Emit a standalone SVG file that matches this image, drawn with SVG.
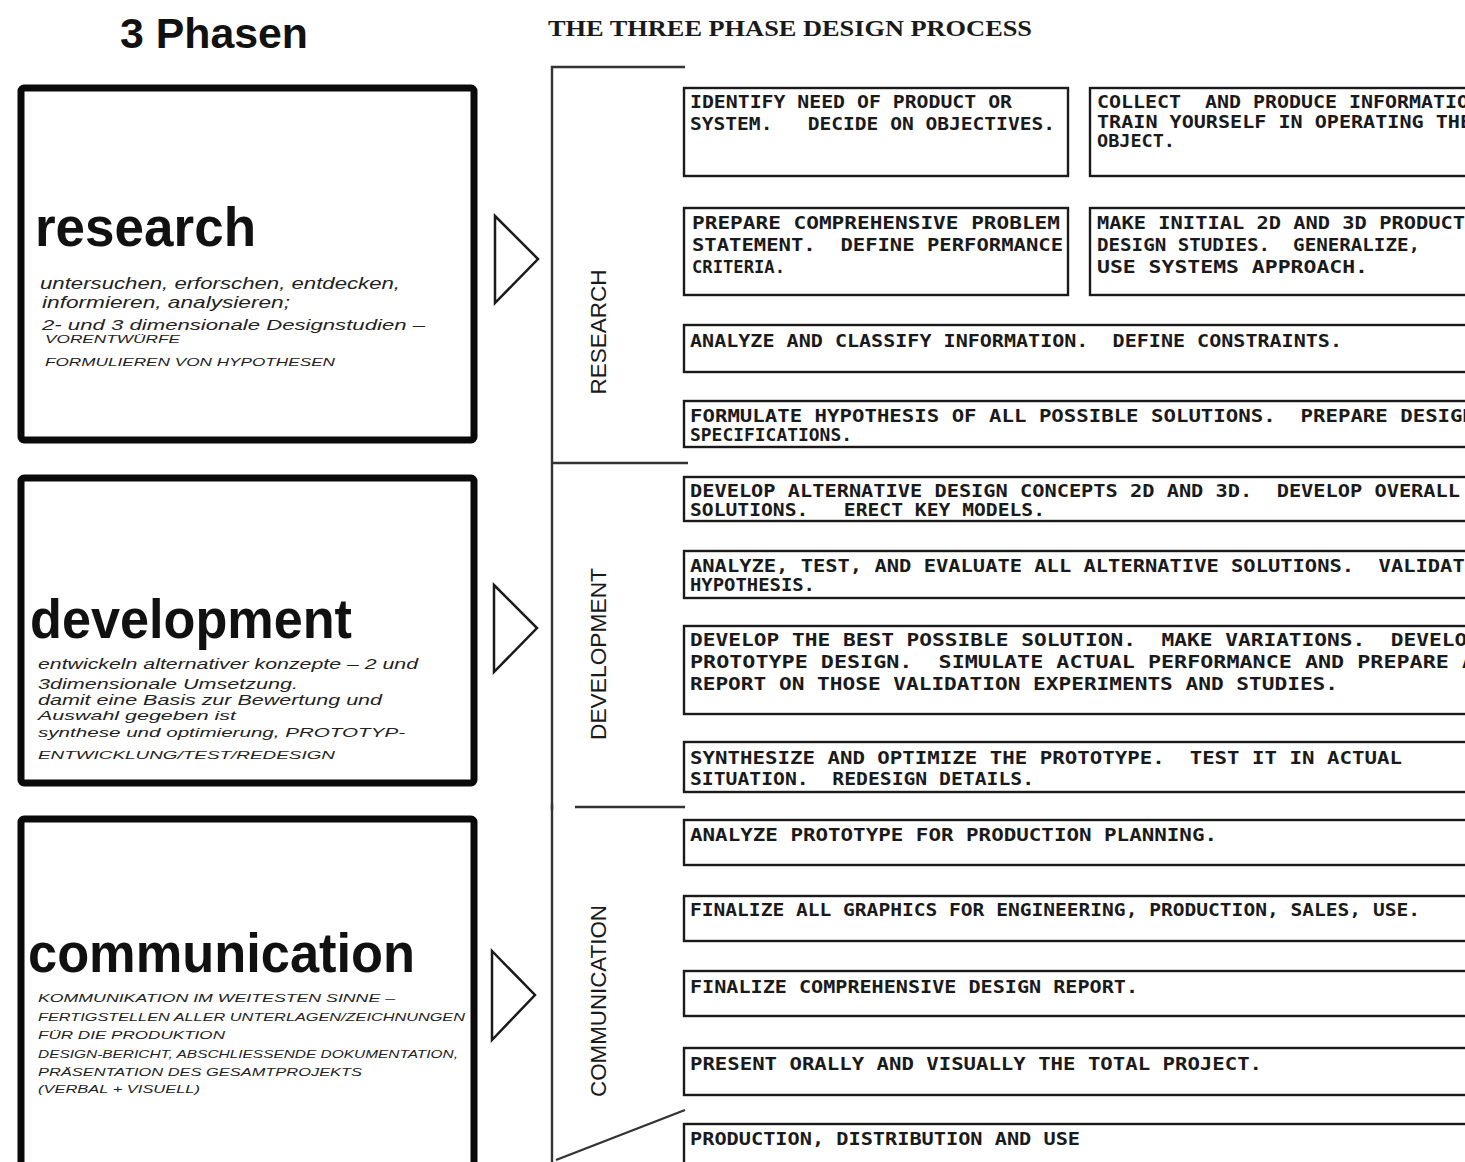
<svg xmlns="http://www.w3.org/2000/svg" width="1465" height="1162" viewBox="0 0 1465 1162">
  <style>
    .phase-box { fill: #fff; stroke: #0a0a0a; stroke-width: 7; stroke-linejoin: round; }
    .head { font-family: "Liberation Sans", Arial, sans-serif; font-weight: bold; fill: #111; }
    .hand { font-family: "Liberation Sans", Arial, sans-serif; font-style: italic; fill: #222; }
    .handcaps { font-family: "Liberation Sans", Arial, sans-serif; font-style: italic; font-size: 11px; fill: #222; }
    .arrow { fill: #fff; stroke: #1a1a1a; stroke-width: 2.5; stroke-linejoin: miter; }
    .step { fill: #fff; stroke: #1a1a1a; stroke-width: 2.4; }
    .step-text { font-family: "DejaVu Sans Mono", "Liberation Mono", monospace; font-weight: bold; font-size: 18px; fill: #1a1a1a; white-space: pre; }
    .rule { stroke: #333; stroke-width: 2.4; fill: none; }
    .vlabel { font-family: "Liberation Sans", Arial, sans-serif; font-size: 22px; fill: #1a1a1a; }
    .title { font-family: "Liberation Serif", "Times New Roman", serif; font-weight: bold; font-size: 23px; fill: #1a1a1a; }
  </style>
  <rect width="1465" height="1162" fill="#fff"/>

  <!-- left column heading -->
  <text class="head" x="120" y="48" font-size="42" textLength="188" lengthAdjust="spacingAndGlyphs">3 Phasen</text>

  <!-- left column: the three phases -->
  <g id="phase-research">
    <rect class="phase-box" x="21" y="88" width="453" height="352" rx="3"/>
    <text class="head" x="35" y="246" font-size="56" textLength="221" lengthAdjust="spacingAndGlyphs">research</text>
    <text class="hand" x="40" y="289" font-size="17" textLength="360" lengthAdjust="spacingAndGlyphs">untersuchen, erforschen, entdecken,</text>
    <text class="hand" x="42" y="308" font-size="17" textLength="248" lengthAdjust="spacingAndGlyphs">informieren, analysieren;</text>
    <text class="hand" x="42" y="330" font-size="14" textLength="383" lengthAdjust="spacingAndGlyphs">2- und 3 dimensionale Designstudien –</text>
    <text class="handcaps" x="45" y="343" font-size="10" textLength="135" lengthAdjust="spacingAndGlyphs">VORENTWÜRFE</text>
    <text class="handcaps" x="45" y="366" textLength="290" lengthAdjust="spacingAndGlyphs">FORMULIEREN VON HYPOTHESEN</text>
  </g>

  <g id="phase-development">
    <rect class="phase-box" x="21" y="478" width="453" height="305" rx="3"/>
    <text class="head" x="30" y="638" font-size="56" textLength="322" lengthAdjust="spacingAndGlyphs">development</text>
    <text class="hand" x="38" y="669" font-size="15" textLength="380" lengthAdjust="spacingAndGlyphs">entwickeln alternativer konzepte – 2 und</text>
    <text class="hand" x="38" y="689" font-size="14" textLength="260" lengthAdjust="spacingAndGlyphs">3dimensionale Umsetzung.</text>
    <text class="hand" x="38" y="705" font-size="14" textLength="344" lengthAdjust="spacingAndGlyphs">damit eine Basis zur Bewertung und</text>
    <text class="hand" x="38" y="720" font-size="13" textLength="198" lengthAdjust="spacingAndGlyphs">Auswahl gegeben ist</text>
    <text class="hand" x="38" y="737" font-size="13" textLength="367" lengthAdjust="spacingAndGlyphs">synthese und optimierung, PROTOTYP-</text>
    <text class="handcaps" x="38" y="759" font-size="13" textLength="297" lengthAdjust="spacingAndGlyphs">ENTWICKLUNG/TEST/REDESIGN</text>
  </g>

  <g id="phase-communication">
    <rect class="phase-box" x="21" y="819" width="453" height="360" rx="3"/>
    <text class="head" x="28" y="972" font-size="56" textLength="387" lengthAdjust="spacingAndGlyphs">communication</text>
    <text class="handcaps" x="38" y="1002" font-size="12" textLength="357" lengthAdjust="spacingAndGlyphs">KOMMUNIKATION IM WEITESTEN SINNE –</text>
    <text class="handcaps" x="38" y="1021" font-size="12" textLength="427" lengthAdjust="spacingAndGlyphs">FERTIGSTELLEN ALLER UNTERLAGEN/ZEICHNUNGEN</text>
    <text class="handcaps" x="38" y="1039" font-size="12" textLength="187" lengthAdjust="spacingAndGlyphs">FÜR DIE PRODUKTION</text>
    <text class="handcaps" x="38" y="1058" font-size="12" textLength="420" lengthAdjust="spacingAndGlyphs">DESIGN-BERICHT, ABSCHLIESSENDE DOKUMENTATION,</text>
    <text class="handcaps" x="38" y="1076" font-size="12" textLength="324" lengthAdjust="spacingAndGlyphs">PRÄSENTATION DES GESAMTPROJEKTS</text>
    <text class="handcaps" x="38" y="1093" font-size="12" textLength="162" lengthAdjust="spacingAndGlyphs">(VERBAL + VISUELL)</text>
  </g>

  <!-- open arrowheads pointing into the process chart -->
  <g id="connectors">
    <polygon class="arrow" points="495,216 538,259 495,303"/>
    <polygon class="arrow" points="494,585 537,628 494,672"/>
    <polygon class="arrow" points="492,951 535,995 492,1040"/>
  </g>

  <!-- right column: process chart -->
  <text class="title" x="548" y="36" textLength="484" lengthAdjust="spacingAndGlyphs">THE THREE PHASE DESIGN PROCESS</text>

  <g id="phase-brackets">
    <path class="rule" d="M685,67 H552 V1162"/>
    <path class="rule" d="M552,463 H688"/>
    <path class="rule" d="M575,807 H685"/>
    <path class="rule" d="M552,804 V810"/>
    <path class="rule" d="M556,1160 L685,1110"/>
    <text class="vlabel" transform="translate(606,332) rotate(-90)" text-anchor="middle" textLength="125" lengthAdjust="spacingAndGlyphs">RESEARCH</text>
    <text class="vlabel" transform="translate(606,654) rotate(-90)" text-anchor="middle" textLength="172" lengthAdjust="spacingAndGlyphs">DEVELOPMENT</text>
    <text class="vlabel" transform="translate(606,1001) rotate(-90)" text-anchor="middle" textLength="192" lengthAdjust="spacingAndGlyphs">COMMUNICATION</text>
  </g>

  <g id="step-identify-need">
    <rect class="step" x="684" y="88" width="384" height="88"/>
    <text class="step-text" x="690" y="108" textLength="322" lengthAdjust="spacingAndGlyphs">IDENTIFY NEED OF PRODUCT OR</text>
    <text class="step-text" x="690" y="130" textLength="365" lengthAdjust="spacingAndGlyphs">SYSTEM.   DECIDE ON OBJECTIVES.</text>
  </g>
  <g id="step-collect-information">
    <rect class="step" x="1090" y="88" width="400" height="88"/>
    <text class="step-text" x="1097" y="108" textLength="372" lengthAdjust="spacingAndGlyphs">COLLECT  AND PRODUCE INFORMATIO</text>
    <text class="step-text" x="1097" y="128" textLength="375" lengthAdjust="spacingAndGlyphs">TRAIN YOURSELF IN OPERATING THE</text>
    <text class="step-text" x="1097" y="147" textLength="78" lengthAdjust="spacingAndGlyphs">OBJECT.</text>
  </g>
  <g id="step-problem-statement">
    <rect class="step" x="684" y="208" width="384" height="87"/>
    <text class="step-text" x="692" y="229" textLength="368" lengthAdjust="spacingAndGlyphs">PREPARE COMPREHENSIVE PROBLEM</text>
    <text class="step-text" x="692" y="251" textLength="371" lengthAdjust="spacingAndGlyphs">STATEMENT.  DEFINE PERFORMANCE</text>
    <text class="step-text" x="692" y="273" textLength="93" lengthAdjust="spacingAndGlyphs">CRITERIA.</text>
  </g>
  <g id="step-design-studies">
    <rect class="step" x="1090" y="208" width="400" height="87"/>
    <text class="step-text" x="1097" y="229" textLength="368" lengthAdjust="spacingAndGlyphs">MAKE INITIAL 2D AND 3D PRODUCT</text>
    <text class="step-text" x="1097" y="251" textLength="323" lengthAdjust="spacingAndGlyphs">DESIGN STUDIES.  GENERALIZE,</text>
    <text class="step-text" x="1097" y="273" textLength="271" lengthAdjust="spacingAndGlyphs">USE SYSTEMS APPROACH.</text>
  </g>
  <g id="step-classify">
    <rect class="step" x="684" y="325" width="820" height="47"/>
    <text class="step-text" x="690" y="347" textLength="652" lengthAdjust="spacingAndGlyphs">ANALYZE AND CLASSIFY INFORMATION.  DEFINE CONSTRAINTS.</text>
  </g>
  <g id="step-hypothesis">
    <rect class="step" x="684" y="401" width="820" height="46"/>
    <text class="step-text" x="690" y="422" textLength="785" lengthAdjust="spacingAndGlyphs">FORMULATE HYPOTHESIS OF ALL POSSIBLE SOLUTIONS.  PREPARE DESIGN</text>
    <text class="step-text" x="690" y="441" textLength="162" lengthAdjust="spacingAndGlyphs">SPECIFICATIONS.</text>
  </g>
  <g id="step-concepts">
    <rect class="step" x="684" y="477" width="820" height="44"/>
    <text class="step-text" x="690" y="497" textLength="770" lengthAdjust="spacingAndGlyphs">DEVELOP ALTERNATIVE DESIGN CONCEPTS 2D AND 3D.  DEVELOP OVERALL</text>
    <text class="step-text" x="690" y="516" textLength="355" lengthAdjust="spacingAndGlyphs">SOLUTIONS.   ERECT KEY MODELS.</text>
  </g>
  <g id="step-evaluate">
    <rect class="step" x="684" y="551" width="820" height="47"/>
    <text class="step-text" x="690" y="572" textLength="787" lengthAdjust="spacingAndGlyphs">ANALYZE, TEST, AND EVALUATE ALL ALTERNATIVE SOLUTIONS.  VALIDATE</text>
    <text class="step-text" x="690" y="591" textLength="125" lengthAdjust="spacingAndGlyphs">HYPOTHESIS.</text>
  </g>
  <g id="step-best-solution">
    <rect class="step" x="684" y="626" width="820" height="88"/>
    <text class="step-text" x="690" y="646" textLength="790" lengthAdjust="spacingAndGlyphs">DEVELOP THE BEST POSSIBLE SOLUTION.  MAKE VARIATIONS.  DEVELOP</text>
    <text class="step-text" x="690" y="668" textLength="785" lengthAdjust="spacingAndGlyphs">PROTOTYPE DESIGN.  SIMULATE ACTUAL PERFORMANCE AND PREPARE A</text>
    <text class="step-text" x="690" y="690" textLength="648" lengthAdjust="spacingAndGlyphs">REPORT ON THOSE VALIDATION EXPERIMENTS AND STUDIES.</text>
  </g>
  <g id="step-synthesize">
    <rect class="step" x="684" y="742" width="820" height="50"/>
    <text class="step-text" x="690" y="764" textLength="712" lengthAdjust="spacingAndGlyphs">SYNTHESIZE AND OPTIMIZE THE PROTOTYPE.  TEST IT IN ACTUAL</text>
    <text class="step-text" x="690" y="785" textLength="344" lengthAdjust="spacingAndGlyphs">SITUATION.  REDESIGN DETAILS.</text>
  </g>
  <g id="step-production-planning">
    <rect class="step" x="684" y="820" width="820" height="45"/>
    <text class="step-text" x="690" y="841" textLength="527" lengthAdjust="spacingAndGlyphs">ANALYZE PROTOTYPE FOR PRODUCTION PLANNING.</text>
  </g>
  <g id="step-graphics">
    <rect class="step" x="684" y="896" width="820" height="45"/>
    <text class="step-text" x="690" y="916" textLength="730" lengthAdjust="spacingAndGlyphs">FINALIZE ALL GRAPHICS FOR ENGINEERING, PRODUCTION, SALES, USE.</text>
  </g>
  <g id="step-design-report">
    <rect class="step" x="684" y="971" width="820" height="45"/>
    <text class="step-text" x="690" y="993" textLength="448" lengthAdjust="spacingAndGlyphs">FINALIZE COMPREHENSIVE DESIGN REPORT.</text>
  </g>
  <g id="step-present">
    <rect class="step" x="684" y="1048" width="820" height="47"/>
    <text class="step-text" x="690" y="1070" textLength="572" lengthAdjust="spacingAndGlyphs">PRESENT ORALLY AND VISUALLY THE TOTAL PROJECT.</text>
  </g>
  <g id="step-production">
    <rect class="step" x="684" y="1124" width="820" height="60"/>
    <text class="step-text" x="690" y="1145" textLength="390" lengthAdjust="spacingAndGlyphs">PRODUCTION, DISTRIBUTION AND USE</text>
  </g>
</svg>
